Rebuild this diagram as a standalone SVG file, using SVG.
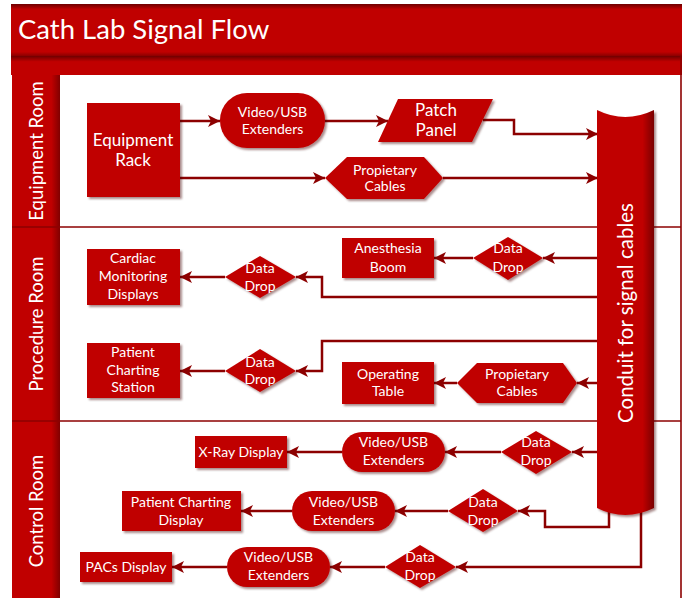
<svg xmlns="http://www.w3.org/2000/svg" width="686" height="598" viewBox="0 0 686 598">
<defs>
<style>
.shape{fill:#C00000;filter:url(#sh)}
.t{fill:#fff;font-family:Lato,"Liberation Sans",sans-serif;font-size:14px;text-anchor:middle}
.tl{fill:#fff;font-family:Lato,"Liberation Sans",sans-serif;font-size:17px;text-anchor:middle}
.lane{fill:#fff;font-family:Lato,"Liberation Sans",sans-serif;font-size:18.5px;text-anchor:middle}
.c{fill:none;stroke:#8C0000;stroke-width:2.5;marker-end:url(#ah)}
.ln{stroke:#8C0000;stroke-width:1.6;fill:none}
</style>
<filter id="sh" x="-10%" y="-10%" width="130%" height="130%">
<feDropShadow dx="2" dy="2" stdDeviation="1.2" flood-color="#400000" flood-opacity="0.45"/>
</filter>
<marker id="ah" markerUnits="userSpaceOnUse" markerWidth="13" markerHeight="12" refX="12" refY="6" orient="auto">
<path d="M0,0 L12,6 L0,12 L3,6 z" fill="#8C0000"/>
</marker>
<linearGradient id="band" x1="0" y1="0" x2="0" y2="1">
<stop offset="0" stop-color="#6e0000"/>
<stop offset="0.1" stop-color="#C00000"/>
<stop offset="0.92" stop-color="#C00000"/>
<stop offset="1" stop-color="#8a0000"/>
</linearGradient>
<linearGradient id="band2" x1="0" y1="0" x2="0" y2="1">
<stop offset="0" stop-color="#6e0000"/>
<stop offset="0.3" stop-color="#C00000"/>
<stop offset="1" stop-color="#C00000"/>
</linearGradient>
<linearGradient id="hdr" x1="0" y1="0" x2="1" y2="0">
<stop offset="0" stop-color="#C00000"/>
<stop offset="0.82" stop-color="#C00000"/>
<stop offset="1" stop-color="#800000"/>
</linearGradient>
<linearGradient id="cond" x1="0" y1="0" x2="1" y2="0">
<stop offset="0" stop-color="#C00000"/>
<stop offset="0.8" stop-color="#C00000"/>
<stop offset="1" stop-color="#7a0000"/>
</linearGradient>
</defs>

<g id="title">
<rect x="11" y="4" width="671" height="52" fill="url(#band)"/>
<rect x="11" y="56" width="671" height="19" fill="url(#band2)"/>
<text x="18" y="39" style="fill:#fff;font-family:Lato,'Liberation Sans',sans-serif;font-size:27.5px">Cath Lab Signal Flow</text>
</g>

<g id="lanes">
<rect x="12" y="75" width="48" height="152" fill="url(#hdr)"/>
<rect x="12" y="227" width="48" height="194" fill="url(#hdr)"/>
<rect x="12" y="421" width="48" height="177" fill="url(#hdr)"/>
<line class="ln" x1="12" y1="227" x2="681" y2="227"/>
<line class="ln" x1="12" y1="421" x2="681" y2="421"/>
<line class="ln" x1="681" y1="56" x2="681" y2="598"/>
<text class="lane" transform="translate(43,151) rotate(-90)">Equipment Room</text>
<text class="lane" transform="translate(43,324) rotate(-90)">Procedure Room</text>
<text class="lane" transform="translate(43,511) rotate(-90)">Control Room</text>
</g>

<g id="connectors">
<path class="c" d="M180,121 H220"/>
<path class="c" d="M325,121 H388"/>
<path class="c" d="M483,120 H514 V134 H598"/>
<path class="c" d="M180,178 H325"/>
<path class="c" d="M443,178 H598"/>
<path class="c" d="M598,258 H543"/>
<path class="c" d="M473,258 H434"/>
<path class="c" d="M598,297 H322 V277 H296"/>
<path class="c" d="M225,277 H180"/>
<path class="c" d="M598,341 H322 V371 H296"/>
<path class="c" d="M225,371 H180"/>
<path class="c" d="M598,383 H577"/>
<path class="c" d="M457,383 H434"/>
<path class="c" d="M598,452 H572"/>
<path class="c" d="M501,452 H445"/>
<path class="c" d="M342,452 H287"/>
<path class="c" d="M609,510 V527 H545 V511 H518"/>
<path class="c" d="M448,511 H395"/>
<path class="c" d="M292,511 H241"/>
<path class="c" d="M641,512 V567 H456"/>
<path class="c" d="M385,567 H330"/>
<path class="c" d="M227,567 H172"/>
</g>

<g id="conduit">
<path d="M597,110 Q625,124 654,110 V508 Q625,522 597,508 Z" fill="url(#cond)" filter="url(#sh)"/>
<text transform="translate(633,313) rotate(-90)" style="fill:#fff;font-family:Lato,'Liberation Sans',sans-serif;font-size:20.5px;text-anchor:middle">Conduit for signal cables</text>
</g>

<g id="equipment-rack">
<rect class="shape" x="87" y="103" width="93" height="94"/>
<text class="tl" x="133" y="146">Equipment</text>
<text class="tl" x="133" y="166">Rack</text>
</g>
<g id="video-usb-eq">
<rect class="shape" x="220" y="93" width="105" height="55" rx="27"/>
<text class="t" x="272.5" y="117">Video/USB</text>
<text class="t" x="272.5" y="134">Extenders</text>
</g>
<g id="patch-panel">
<polygon class="shape" points="398,99 493,99 472,142 378,142"/>
<text class="tl" x="436" y="116">Patch</text>
<text class="tl" x="436" y="136">Panel</text>
</g>
<g id="prop-cables-eq">
<polygon class="shape" points="325,178 347,157 424,157 443,178 424,199 347,199"/>
<text class="t" x="385" y="175">Propietary</text>
<text class="t" x="385" y="191">Cables</text>
</g>

<g id="anesthesia-boom">
<rect class="shape" x="342" y="238" width="92" height="40"/>
<text class="t" x="388" y="253">Anesthesia</text>
<text class="t" x="388" y="272">Boom</text>
</g>
<g id="dd-anesthesia">
<polygon class="shape" points="508,237 543,258 508,280 473,258"/>
<text class="t" x="508" y="253">Data</text>
<text class="t" x="508" y="272">Drop</text>
</g>
<g id="cardiac">
<rect class="shape" x="87" y="249" width="93" height="56"/>
<text class="t" x="133" y="263">Cardiac</text>
<text class="t" x="133" y="281">Monitoring</text>
<text class="t" x="133" y="299">Displays</text>
</g>
<g id="dd-cardiac">
<polygon class="shape" points="260,256 296,277 260,298 225,277"/>
<text class="t" x="260" y="273">Data</text>
<text class="t" x="260" y="291">Drop</text>
</g>
<g id="patient-station">
<rect class="shape" x="87" y="343" width="93" height="55"/>
<text class="t" x="133" y="357">Patient</text>
<text class="t" x="133" y="375">Charting</text>
<text class="t" x="133" y="392">Station</text>
</g>
<g id="dd-patient">
<polygon class="shape" points="260,349 296,371 260,392 225,371"/>
<text class="t" x="260" y="367">Data</text>
<text class="t" x="260" y="384">Drop</text>
</g>
<g id="operating-table">
<rect class="shape" x="342" y="362" width="92" height="42"/>
<text class="t" x="388" y="379">Operating</text>
<text class="t" x="388" y="396">Table</text>
</g>
<g id="prop-cables-proc">
<polygon class="shape" points="457,383 477,363 563,363 577,383 563,403 477,403"/>
<text class="t" x="517" y="379">Propietary</text>
<text class="t" x="517" y="396">Cables</text>
</g>

<g id="xray">
<rect class="shape" x="195" y="436" width="92" height="32"/>
<text class="t" x="241" y="457">X-Ray Display</text>
</g>
<g id="video-usb-c1">
<rect class="shape" x="342" y="432" width="103" height="40" rx="20"/>
<text class="t" x="393.5" y="447">Video/USB</text>
<text class="t" x="393.5" y="465">Extenders</text>
</g>
<g id="dd-c1">
<polygon class="shape" points="536,431 572,452 536,474 501,452"/>
<text class="t" x="536" y="447">Data</text>
<text class="t" x="536" y="465">Drop</text>
</g>
<g id="patient-display">
<rect class="shape" x="122" y="491" width="119" height="40"/>
<text class="t" x="181" y="507">Patient Charting</text>
<text class="t" x="181" y="525">Display</text>
</g>
<g id="video-usb-c2">
<rect class="shape" x="292" y="491" width="103" height="40" rx="20"/>
<text class="t" x="343.5" y="507">Video/USB</text>
<text class="t" x="343.5" y="525">Extenders</text>
</g>
<g id="dd-c2">
<polygon class="shape" points="483,489 518,511 483,532 448,511"/>
<text class="t" x="483" y="507">Data</text>
<text class="t" x="483" y="525">Drop</text>
</g>
<g id="pacs">
<rect class="shape" x="80" y="552" width="92" height="30"/>
<text class="t" x="126" y="572">PACs Display</text>
</g>
<g id="video-usb-c3">
<rect class="shape" x="227" y="547" width="103" height="40" rx="20"/>
<text class="t" x="278.5" y="562">Video/USB</text>
<text class="t" x="278.5" y="580">Extenders</text>
</g>
<g id="dd-c3">
<polygon class="shape" points="420,545 456,567 420,588 385,567"/>
<text class="t" x="420" y="562">Data</text>
<text class="t" x="420" y="580">Drop</text>
</g>
</svg>
